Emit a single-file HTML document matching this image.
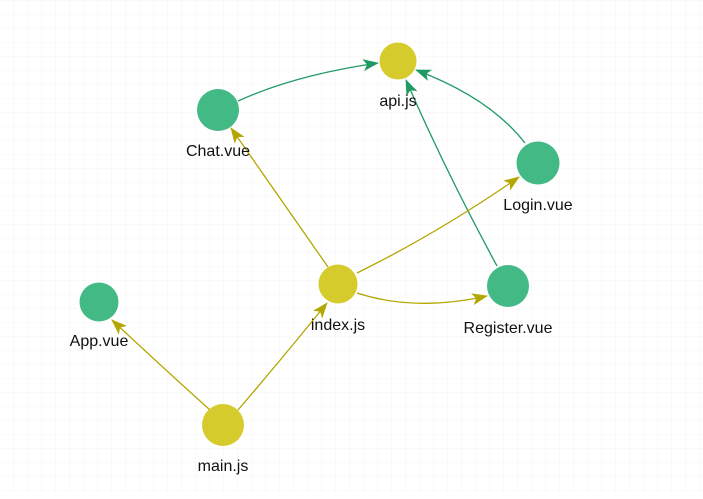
<!DOCTYPE html>
<html><head><meta charset="utf-8"><style>
html,body{margin:0;padding:0;background:#fff;}
body{width:703px;height:494px;overflow:hidden;}
text{font-family:"Liberation Sans",Arial,sans-serif;font-size:16px;fill:#111;text-anchor:middle;}
</style></head><body>
<svg width="703" height="494" viewBox="0 0 703 494" xmlns="http://www.w3.org/2000/svg">
<defs>
<pattern id="g" width="14" height="14" patternUnits="userSpaceOnUse" x="0" y="1">
<path d="M14 0V14M0 14H14" stroke="#f4f4f4" stroke-width="1" fill="none"/>
</pattern>
<marker id="ag" markerWidth="16" markerHeight="12" refX="15" refY="6" orient="auto" markerUnits="userSpaceOnUse">
<path d="M0,0 L16,6 L0,12 L4,6 z" fill="#1f9a62"/>
</marker>
<marker id="ay" markerWidth="16" markerHeight="12" refX="15" refY="6" orient="auto" markerUnits="userSpaceOnUse">
<path d="M0,0 L16,6 L0,12 L4,6 z" fill="#b3a600"/>
</marker>
</defs>
<rect width="703" height="494" fill="url(#g)"/>
<g fill="none" stroke-width="1.3">
<path d="M238,101 Q295,75 378,63" stroke="#1f9a62" marker-end="url(#ag)"/>
<path d="M525,143 Q490,98 416,70" stroke="#1f9a62" marker-end="url(#ag)"/>
<path d="M497,266 Q445,170 406,80" stroke="#1f9a62" marker-end="url(#ag)"/>
<path d="M328,267 Q285,205 231,128" stroke="#b3a600" marker-end="url(#ay)"/>
<path d="M357,273 Q440,232 519,177" stroke="#b3a600" marker-end="url(#ay)"/>
<path d="M357,293 Q415,312 487,296" stroke="#b3a600" marker-end="url(#ay)"/>
<path d="M210,410 Q160,365 112,320" stroke="#b3a600" marker-end="url(#ay)"/>
<path d="M238,410 Q285,355 327,303" stroke="#b3a600" marker-end="url(#ay)"/>
</g>
<circle cx="398" cy="61" r="18.5" fill="#d6cb2c"/>
<circle cx="218" cy="110" r="21" fill="#43b985"/>
<circle cx="538" cy="163" r="21.5" fill="#43b985"/>
<circle cx="338" cy="284" r="19.5" fill="#d6cb2c"/>
<circle cx="508" cy="286" r="21" fill="#43b985"/>
<circle cx="99" cy="302" r="19.5" fill="#43b985"/>
<circle cx="223" cy="425" r="21" fill="#d6cb2c"/>
<text x="398" y="106">api.js</text>
<text x="218" y="156">Chat.vue</text>
<text x="538" y="210">Login.vue</text>
<text x="338" y="330">index.js</text>
<text x="508" y="333">Register.vue</text>
<text x="99" y="346">App.vue</text>
<text x="223" y="471">main.js</text>
</svg>
</body></html>
